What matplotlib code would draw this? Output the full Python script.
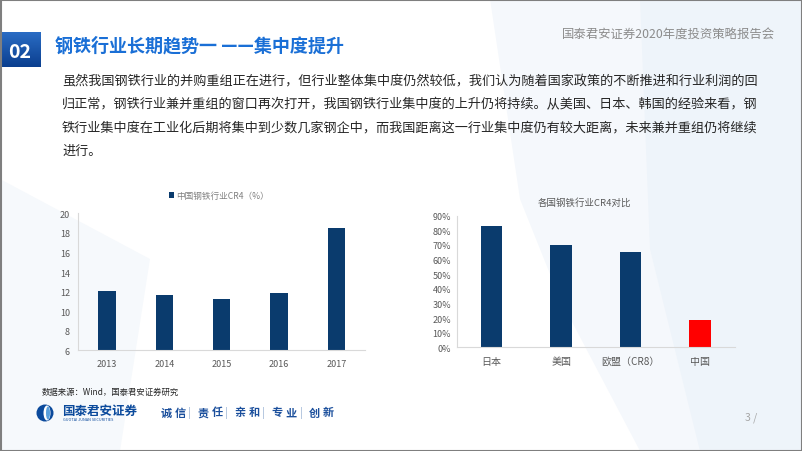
import numpy as np
import matplotlib.pyplot as plt
from matplotlib.patches import Rectangle, Polygon, Circle, Ellipse

plt.rcParams['font.family'] = ['Noto Sans CJK SC', 'DejaVu Sans']

# left chart: China steel CR4 (%)
years = ['2013', '2014', '2015', '2016', '2017']
cr4_china = [12.1, 11.6, 11.25, 11.9, 18.5]

# right chart: CR4 by region
countries = ['日本', '美国', '欧盟（CR8）', '中国']
cr4_compare = [0.83, 0.70, 0.65, 0.185]
compare_colors = ['#0a3b6d', '#0a3b6d', '#0a3b6d', '#ff0000']

body_lines = [
    '虽然我国钢铁行业的并购重组正在进行，但行业整体集中度仍然较低，我们认为随着国家政策的不断推进和行业利润的回',
    '归正常，钢铁行业兼并重组的窗口再次打开，我国钢铁行业集中度的上升仍将持续。从美国、日本、韩国的经验来看，钢',
    '铁行业集中度在工业化后期将集中到少数几家钢企中，而我国距离这一行业集中度仍有较大距离，未来兼并重组仍将继续',
    '进行。',
]
motto = ['诚', '信', '|', '责', '任', '|', '亲', '和', '|', '专', '业', '|', '创', '新']

navy = '#0a3b6d'
tick_gray = '#595959'
axis_gray = '#d9d9d9'

fig = plt.figure(figsize=(8.02, 4.52), dpi=100)
fig.patch.set_facecolor('white')

# slide background / decorations, pixel coordinates
bg = fig.add_axes([0, 0, 1, 1], zorder=0)
bg.set_xlim(0, 802)
bg.set_ylim(452, 0)
bg.axis('off')

bg.add_patch(Polygon([(490, 0), (802, 0), (802, 452), (640, 452), (560, 300), (520, 200)],
                     closed=True, facecolor='#f5f8fc', edgecolor='none'))
bg.add_patch(Polygon([(640, 0), (802, 0), (802, 452), (700, 452), (650, 250)],
                     closed=True, facecolor='#eef4fa', edgecolor='none'))
bg.add_patch(Polygon([(0, 180), (150, 260), (120, 452), (0, 452)],
                     closed=True, facecolor='#f6f9fc', edgecolor='none'))

# "02" box with gradient
grad = np.linspace(0, 1, 50).reshape(-1, 1)
bg.imshow(grad, extent=(0, 41, 68, 33), cmap=plt.matplotlib.colors.LinearSegmentedColormap.from_list(
    'b', ['#2a6cc4', '#0b3f8f']), aspect='auto', zorder=2)
bg.text(20, 53, '02', color='white', fontsize=14, fontweight='bold', ha='center', va='center', zorder=3)
bg.text(55, 46, '钢铁行业长期趋势一 ——集中度提升', color='#1a6fd6', fontsize=13,
        fontweight='bold', ha='left', va='center')
bg.text(775, 35, '国泰君安证券2020年度投资策略报告会', color='#8c8c8c', fontsize=8.9,
        ha='right', va='center')

for i, line in enumerate(body_lines):
    bg.text(62, 81 + i * 23.5, line, color='#262626', fontsize=9.45, ha='left', va='center')

# footer
bg.text(42, 392, '数据来源：Wind，国泰君安证券研究', color='#262626', fontsize=6, ha='left', va='center')
bg.add_patch(Circle((45, 414), 8.5, facecolor='#0b4a9c', edgecolor='none'))
bg.add_patch(Ellipse((47, 414), 7, 15, facecolor='white', edgecolor='none'))
bg.add_patch(Ellipse((48, 414), 4, 13, facecolor='#5aa0dc', edgecolor='none'))
bg.text(62, 411, '国泰君安证券', color='#0b4a9c', fontsize=9, fontweight='bold', ha='left', va='center')
bg.text(63, 420.5, 'GUOTAI JUNAN SECURITIES', color='#0b4a9c', fontsize=2.8, ha='left', va='center')
mx = 161
for ch in motto:
    if ch == '|':
        bg.text(mx + 1, 413, ch, color='#8fa9cf', fontsize=7, ha='center', va='center')
        mx += 9.5
    else:
        bg.text(mx + 5, 413, ch, color='#1b4f9c', fontsize=8, fontweight='bold', ha='center', va='center')
        mx += 13.8
bg.text(745, 418, '3 /', color='#a6a6a6', fontsize=7.5, ha='left', va='center')

bg.add_patch(Rectangle((0.5, 0.5), 801, 451, facecolor='none', edgecolor='#7f7f7f', lw=1.5, zorder=5))
bg.set_xlim(0, 802)
bg.set_ylim(452, 0)

# left chart
ax1 = fig.add_axes([0.0976, 0.2228, 0.3575, 0.3031], zorder=2)
ax1.patch.set_alpha(0)
x1 = np.arange(len(years))
ax1.bar(x1, cr4_china, width=0.3, color=navy, label='中国钢铁行业CR4（%）')
ax1.set_xlim(-0.5, len(years) - 0.5)
ax1.set_ylim(6, 20)
ax1.set_yticks(np.arange(6, 21, 2))
ax1.set_xticks(x1)
ax1.set_xticklabels(years)
ax1.tick_params(length=0, labelsize=6.5, labelcolor=tick_gray, pad=6)
for s in ['top', 'right']:
    ax1.spines[s].set_visible(False)
for s in ['left', 'bottom']:
    ax1.spines[s].set_color(axis_gray)
    ax1.spines[s].set_linewidth(0.8)
ax1.legend(loc='lower center', bbox_to_anchor=(0.49, 1.04), frameon=False, fontsize=6.2,
           handlelength=0.6, handleheight=0.6, handletextpad=0.3, labelcolor='#7f7f7f')

# right chart
ax2 = fig.add_axes([0.5695, 0.2294, 0.347, 0.2912], zorder=2)
ax2.patch.set_alpha(0)
x2 = np.arange(len(countries))
ax2.bar(x2, cr4_compare, width=0.31, color=compare_colors)
ax2.set_xlim(-0.5, len(countries) - 0.5)
ax2.set_ylim(0, 0.9)
ax2.set_yticks(np.arange(0, 0.91, 0.1))
ax2.set_yticklabels([f'{int(round(v * 100))}%' for v in np.arange(0, 0.91, 0.1)])
ax2.set_xticks(x2)
ax2.set_xticklabels(countries)
ax2.tick_params(axis='y', length=0, labelsize=6.5, labelcolor=tick_gray, pad=4)
ax2.tick_params(axis='x', length=0, labelsize=7.2, labelcolor=tick_gray, pad=6)
for s in ['top', 'right']:
    ax2.spines[s].set_visible(False)
for s in ['left', 'bottom']:
    ax2.spines[s].set_color(axis_gray)
    ax2.spines[s].set_linewidth(0.8)
ax2.text(0.46, 1.1, '各国钢铁行业CR4对比', transform=ax2.transAxes, fontsize=6.8,
         color='#595959', ha='center', va='center')

fig.savefig('out.png', dpi=100)
